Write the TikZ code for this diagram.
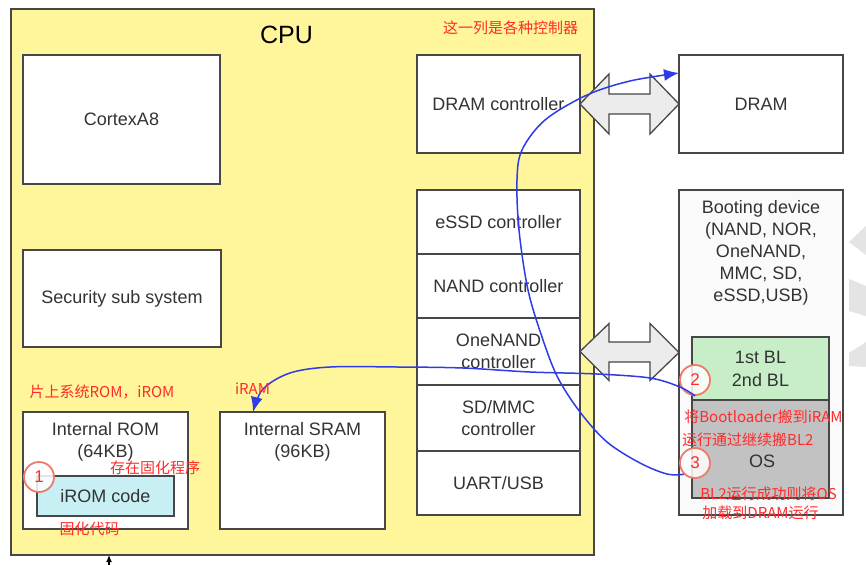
\documentclass[tikz,border=0pt]{standalone}
\usepackage{fontspec}
\setmainfont{Liberation Sans}
\newfontfamily\cjkfont{Noto Sans CJK SC}
\usetikzlibrary{arrows.meta,calc}
\definecolor{cpuyellow}{HTML}{FFF59A}
\definecolor{boxline}{HTML}{474747}
\definecolor{labgrey}{HTML}{333333}
\definecolor{notered}{HTML}{FF2B2B}
\definecolor{circred}{HTML}{EE7A6A}
\definecolor{flowblue}{HTML}{2E3BE6}
\definecolor{cyanfill}{HTML}{C8F0F4}
\definecolor{greenfill}{HTML}{C8EEC8}
\definecolor{osgrey}{HTML}{C2C2C2}
\definecolor{arrowfill}{HTML}{ECECEC}
\definecolor{bootfill}{HTML}{FAFAFA}
\definecolor{faint}{HTML}{E4E4E4}
\newcommand\boxlab{\fontsize{18}{22}\selectfont}
\tikzset{
  box/.style={draw=boxline, line width=1.4pt, fill=white, inner sep=0pt, outer sep=0pt,
              text=labgrey, font=\boxlab, align=center},
  lab/.style={text=labgrey, font=\boxlab, align=center, inner sep=0pt},
  note/.style={text=notered, font=\cjkfont\fontsize{15}{18}\selectfont, inner sep=0pt},
  num/.style={circle, draw=circred, line width=1.8pt, fill=white, fill opacity=0.85,
              text opacity=1, text=notered, minimum size=30pt, inner sep=0pt,
              font=\fontsize{17}{17}\selectfont},
  flow/.style={draw=flowblue, line width=1.5pt, -{Latex[length=15pt,width=12pt]}},
  dblarrow/.style={draw=boxline, line width=1.3pt, fill=arrowfill, line join=miter},
}
\begin{document}
\begin{tikzpicture}[x=1pt,y=-1pt]
\useasboundingbox (0,0) rectangle (866,564);
\fill[white] (0,0) rectangle (866,564);

% CPU
\node[box, fill=cpuyellow, minimum width=583pt, minimum height=546pt] (cpu) at (302.5,282) {};
\node[text=black, font=\fontsize{25}{25}\selectfont, inner sep=0pt] (cpulabel) at (286.5,35) {CPU};

\node[box, minimum width=197pt, minimum height=129pt] (cortex) at (121.5,119.5) {CortexA8};
\node[box, minimum width=198pt, minimum height=97pt] (security) at (122,298.5) {Security sub system};

\node[box, minimum width=165pt, minimum height=117pt] (irom) at (105.5,470.5) {};
\node[lab] (iromlab) at (105.5,442) {Internal ROM\\(64KB)};
\node[box, fill=cyanfill, minimum width=137pt, minimum height=40pt] (iromcode) at (105.5,496) {iROM code};

\node[box, minimum width=165pt, minimum height=117pt] (sram) at (302.5,470.5) {};
\node[lab] (sramlab) at (302.5,442) {Internal SRAM\\(96KB)};

% controllers
\node[box, minimum width=163pt, minimum height=98pt] (dramctrl) at (498.5,104) {DRAM controller};
\node[box, minimum width=163pt, minimum height=64pt] (essd) at (498.5,222) {eSSD controller};
\node[box, minimum width=163pt, minimum height=64pt] (nand) at (498.5,286) {NAND controller};
\node[box, minimum width=163pt, minimum height=67pt] (onenand) at (498.5,351.5) {OneNAND\\controller};
\node[box, minimum width=163pt, minimum height=66pt] (sdmmc) at (498.5,418) {SD/MMC\\controller};
\node[box, minimum width=163pt, minimum height=64pt] (uart) at (498.5,483) {UART/USB};

% external
\node[box, minimum width=164pt, minimum height=98pt] (dram) at (761,104) {DRAM};
\node[box, fill=bootfill, minimum width=164pt, minimum height=325pt] (boot) at (761,352.5) {};
\node[lab] (bootlab) at (761,253) {Booting device\\(NAND, NOR,\\OneNAND,\\MMC, SD,\\eSSD,USB)};
\node[box, fill=greenfill, minimum width=137pt, minimum height=63pt, font=\fontsize{18}{23}\selectfont] (bl) at (760.5,368.5) {1st BL\\2nd BL};
\node[box, fill=osgrey, minimum width=137pt, minimum height=98pt] (os) at (760.5,449) {};
\node[lab] (oslab) at (762,461) {OS};

% faint partial shapes at the right edge
\fill[faint] (866,226) -- (849,242) -- (866,255) -- cycle;
\fill[faint] (849,279) -- (866,286) -- (866,316) -- (849,311) -- cycle;
\fill[faint] (866,342) -- (849,353) -- (849,366) -- (866,367) -- cycle;

% double arrows
\draw[dblarrow] (dramctrl.east) -- ++(29,-30) -- ++(0,20) -- ++(41,0) -- ++(0,-20)
  -- (dram.west) -- ++(-29,30) -- ++(0,-20) -- ++(-41,0) -- ++(0,20) -- cycle;
\draw[dblarrow] (onenand.east) -- ++(29,-28) -- ++(0,18.5) -- ++(41,0) -- ++(0,-18.5)
  -- (boot.west) -- ++(-29,28) -- ++(0,-18.5) -- ++(-41,0) -- ++(0,18.5) -- cycle;

% external arrow at bottom
\coordinate (ext) at (109,570);
\draw[black, line width=1.2pt, -{Latex[length=7pt,width=6pt]}] (ext) -- (ext |- cpu.south);

% circles
\node[num] (c1) at (39,477) {1};
\node[num] (c2) at (695,380) {2};
\node[num] (c3) at (695,463) {3};

% blue flows
\coordinate (dramin) at ($(dram.north west)+(0,18)$);
\coordinate (sramin) at ($(sram.north west)+(33,0)$);
\draw[flow] plot[smooth, tension=0.55] coordinates {(c3.south west) (667,474) (640,463) (607,442)
  (580,412) (558,378) (543,340) (528,290) (519,230) (517,180) (522,150) (545,120) (587,95)
  (630,81) (dramin)};
\draw[flow] plot[smooth, tension=0.55] coordinates {(c2.south) (680,387) (650,378) (597,374)
  (530,372) (463,368) (397,367) (330,367) (290,373) (263,389) (sramin)};

% red notes
\node[note] (n1) at (510.5,28) {这一列是各种控制器};
\node[note] (n2) at (102,391.5) {片上系统ROM，iROM};
\node[note] (n3) at (252.5,389) {iRAM};
\node[note] (n4) at (155,467.5) {存在固化程序};
\node[note] (n5) at (89.5,529) {固化代码};
\node[note] (n6) at (763.5,417) {将Bootloader搬到iRAM};
\node[note, anchor=west] (n7) at (682,440) {运行通过继续搬BL2};
\node[note] (n8) at (768.5,494) {BL2运行成功则将OS};
\node[note] (n9) at (760.5,513) {加载到DRAM运行};
\end{tikzpicture}
\end{document}
